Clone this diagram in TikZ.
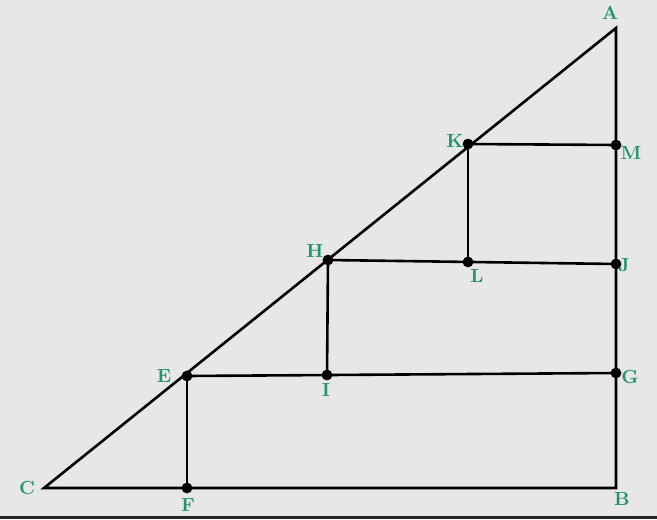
\documentclass[tikz,border=0pt]{standalone}
\definecolor{ptgreen}{RGB}{34,150,104}
\definecolor{bggray}{RGB}{231,231,231}
\tikzset{
	dot/.style = {circle, fill = black, inner sep = 0pt, minimum size = 5.4pt},
	lbl/.style = {text = ptgreen, font = \fontsize{9.5}{11}\selectfont\bfseries, inner sep = 1pt},
	seg/.style = {line width = 1.3pt},
}
\begin{document}
\begin{tikzpicture}[x = 0.5pt, y = -0.5pt]
	\fill[bggray] (0, 0) rectangle (657, 519);
	\fill[black!85] (0, 516) rectangle (657, 519);
	\coordinate (A) at (616, 28);
	\coordinate (B) at (616, 488);
	\coordinate (C) at (44, 488);
	\coordinate (E) at (187, 376);
	\coordinate (F) at (187, 488);
	\coordinate (G) at (616, 373);
	\coordinate (H) at (328, 260);
	\coordinate (I) at (327, 375);
	\coordinate (J) at (616, 264);
	\coordinate (K) at (468, 144);
	\coordinate (L) at (468, 262);
	\coordinate (M) at (616, 145);
	\draw[seg, line join = miter] (C) -- (A) -- (B) -- cycle;
	\draw[seg] (E) -- (G);
	\draw[seg] (E) -- (F);
	\draw[seg] (H) -- (J);
	\draw[seg] (H) -- (I);
	\draw[seg] (K) -- (M);
	\draw[seg] (K) -- (L);
	\foreach \p in {E, F, G, H, I, J, K, L, M}
		\node[dot] at (\p) {};
	\node[lbl] (lA) at (610, 13) {A};
	\node[lbl] (lB) at (622, 499) {B};
	\node[lbl] (lC) at (27, 488) {C};
	\node[lbl] (lE) at (164, 376) {E};
	\node[lbl] (lF) at (188, 505) {F};
	\node[lbl] (lG) at (630, 377) {G};
	\node[lbl] (lH) at (315, 251) {H};
	\node[lbl] (lI) at (326, 390) {I};
	\node[lbl] (lJ) at (624, 265) {J};
	\node[lbl] (lK) at (455, 141) {K};
	\node[lbl] (lL) at (477, 276) {L};
	\node[lbl] (lM) at (631, 153) {M};
\end{tikzpicture}
\end{document}
